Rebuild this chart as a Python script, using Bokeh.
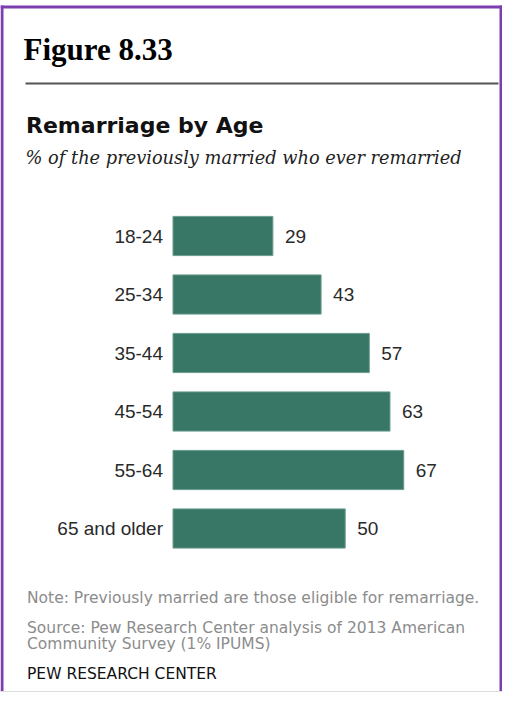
from bokeh.plotting import figure
from bokeh.models import Range1d, Label, ColumnDataSource
from bokeh.core.properties import value
from bokeh.embed import file_html
from bokeh.resources import INLINE

# ---- data ----
categories = ["18-24", "25-34", "35-44", "45-54", "55-64", "65 and older"]
values = [29, 43, 57, 63, 67, 50]
title_fig = "Figure 8.33"
title = "Remarriage  by Age"
subtitle = "% of the previously married who ever remarried"
note = "Note: Previously married are those eligible for remarriage."
source1 = "Source: Pew Research Center analysis of 2013 American"
source2 = "Community Survey (1% IPUMS)"
brand = "PEW RESEARCH CENTER"

W, H = 502, 692
X0 = 172.5      # pixel of value 0
S = 3.444       # pixels per percentage point
Y0 = 235.5      # pixel centre of first row
RS = 58.5       # row spacing in pixels

def X(px):
    return (px - X0) / S

def Y(py):
    return (py - Y0) / RS

p = figure(width=W, height=H, output_backend="svg", toolbar_location=None,
           x_range=Range1d(X(0), X(W)), y_range=Range1d(Y(H), Y(0)),
           min_border=0, min_border_left=0, min_border_right=0,
           min_border_top=0, min_border_bottom=0)
p.axis.visible = False
p.grid.visible = False
p.outline_line_color = None
p.background_fill_color = "white"
p.border_fill_color = "white"

rows = list(range(len(categories)))
src = ColumnDataSource(dict(y=rows, v=values, cat=categories,
                            lab=[str(v) for v in values]))

p.hbar(y="y", left=0, right="v", height=0.67, source=src,
       fill_color="#387665", line_color="#6a9c8f", line_width=1)

p.text(x=0, y="y", text="cat", source=src, x_offset=-10,
       text_align="right", text_baseline="middle",
       text_font=value("Liberation Sans"), text_font_size="19px",
       text_color="#2a2a2a")
p.text(x="v", y="y", text="lab", source=src, x_offset=12,
       text_align="left", text_baseline="middle",
       text_font=value("Liberation Sans"), text_font_size="19px",
       text_color="#2a2a2a")

def add_label(px, py, txt, font, size, color, style="normal"):
    p.add_layout(Label(x=X(px), y=Y(py), text=txt, text_font=font,
                       text_font_size=size, text_color=color,
                       text_font_style=style, text_baseline="alphabetic",
                       text_align="left"))

add_label(23, 48.5, title_fig, "Liberation Serif", "31px", "#000000", "bold")
add_label(25.5, 124.5, title, "DejaVu Sans", "22px", "#111111", "bold")
add_label(25, 157, subtitle, "DejaVu Serif", "17.8px", "#222222", "italic")
add_label(26.5, 597.5, note, "DejaVu Sans", "15.5px", "#8c8c8c")
add_label(26.5, 627, source1, "DejaVu Sans", "15.5px", "#8c8c8c")
add_label(26.5, 643, source2, "DejaVu Sans", "15.5px", "#8c8c8c")
add_label(26.5, 673.5, brand, "DejaVu Sans", "15.5px", "#111111")

# rule under the figure number
p.segment(x0=[X(25)], y0=[Y(83)], x1=[X(498)], y1=[Y(83)],
          line_color="#555555", line_width=2)

# frame border
purple = "#7b3fb0"
p.segment(x0=[X(1.5)], y0=[Y(5)], x1=[X(1.5)], y1=[Y(H)],
          line_color=purple, line_width=3)
p.segment(x0=[X(0)], y0=[Y(6.5)], x1=[X(W)], y1=[Y(6.5)],
          line_color=purple, line_width=3)
p.segment(x0=[X(W - 1.5)], y0=[Y(5)], x1=[X(W - 1.5)], y1=[Y(H)],
          line_color=purple, line_width=3)
p.segment(x0=[X(0)], y0=[Y(H - 1)], x1=[X(W)], y1=[Y(H - 1)],
          line_color="#dddddd", line_width=1)

open("out.html", "w").write(file_html(p, INLINE))
